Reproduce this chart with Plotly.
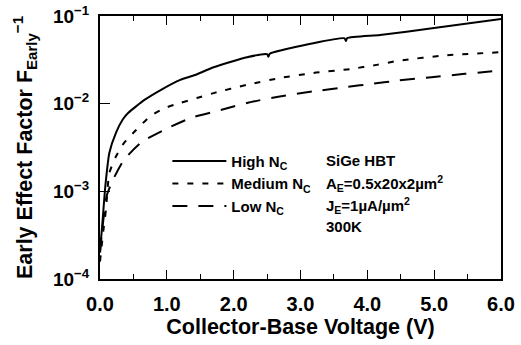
import plotly.graph_objects as go

# Collector-base voltage (V) and Early effect factor values
v_high = [0.0, 0.04, 0.08, 0.14, 0.24, 0.34, 0.42, 0.67, 0.92, 1.20, 1.42, 1.70,
          2.20, 2.50, 2.52, 2.54, 3.19, 3.66, 3.68, 3.70, 4.19, 4.97, 6.0]
f_high = [2.04e-4, 4.79e-4, 1.15e-3, 2.75e-3, 4.68e-3, 6.6e-3, 7.83e-3, 1.11e-2,
          1.45e-2, 1.87e-2, 2.12e-2, 2.6e-2, 3.39e-2, 3.67e-2, 3.43e-2, 3.72e-2,
          4.9e-2, 5.57e-2, 5.19e-2, 5.62e-2, 6.08e-2, 7.24e-2, 9.23e-2]

v_med = [0.0, 0.05, 0.09, 0.14, 0.24, 0.36, 0.54, 0.75, 0.97, 1.20, 1.45, 1.70,
         2.20, 2.69, 3.19, 3.74, 4.14, 4.47, 5.16, 5.96]
f_med = [1.58e-4, 3.55e-4, 6.3e-4, 1.62e-3, 2.51e-3, 3.57e-3, 5.0e-3, 7.18e-3,
         8.9e-3, 1.02e-2, 1.16e-2, 1.32e-2, 1.64e-2, 1.96e-2, 2.24e-2, 2.48e-2,
         2.77e-2, 3.09e-2, 3.55e-2, 3.85e-2]

v_low = [0.0, 0.025, 0.10, 0.20, 0.36, 0.62, 0.97, 1.37, 1.82, 2.20, 2.69, 3.19,
         3.69, 4.09, 4.47, 4.96, 5.46, 6.0]
f_low = [2.0e-4, 3.16e-4, 8.9e-4, 1.38e-3, 2.29e-3, 3.63e-3, 5.07e-3, 6.92e-3,
         8.51e-3, 1.02e-2, 1.21e-2, 1.38e-2, 1.55e-2, 1.69e-2, 1.84e-2, 2.0e-2,
         2.19e-2, 2.39e-2]

x_tickvals = [0, 1, 2, 3, 4, 5, 6]
x_ticktext = ["0.0", "1.0", "2.0", "3.0", "4.0", "5.0", "6.0"]
y_tickvals = [1e-4, 1e-3, 1e-2, 1e-1]
y_ticktext = ["10<sup>−4</sup>", "10<sup>−3</sup>", "10<sup>−2</sup>", "10<sup>−1</sup>"]

series_names = ["High N<sub>C</sub>", "Medium N<sub>C</sub>", "Low N<sub>C</sub>"]
info_lines = ["SiGe HBT", "A<sub>E</sub>=0.5x20x2µm<sup>2</sup>",
              "J<sub>E</sub>=1µA/µm<sup>2</sup>", "300K"]

FONT = "Liberation Sans, Arial, sans-serif"

fig = go.Figure()
fig.add_trace(go.Scatter(x=v_high, y=f_high, mode="lines", name=series_names[0],
                         line=dict(color="black", width=2, dash="solid",
                                   shape="spline", smoothing=0.5)))
fig.add_trace(go.Scatter(x=v_med, y=f_med, mode="lines", name=series_names[1],
                         line=dict(color="black", width=2, dash="6px,9px",
                                   shape="spline", smoothing=0.6)))
fig.add_trace(go.Scatter(x=v_low, y=f_low, mode="lines", name=series_names[2],
                         line=dict(color="black", width=2, dash="15px,11px",
                                   shape="spline", smoothing=0.6)))

info_y = [0.452, 0.365, 0.281, 0.198]
for txt, yy in zip(info_lines, info_y):
    fig.add_annotation(x=0.559, y=yy, xref="paper", yref="paper", text=txt,
                       showarrow=False, xanchor="left", yanchor="middle",
                       font=dict(family=FONT, size=15, color="black", weight="bold"))

fig.update_layout(
    width=521, height=345,
    margin=dict(l=100, r=20, t=16, b=66),
    paper_bgcolor="white", plot_bgcolor="white",
    font=dict(family=FONT, color="black"),
    showlegend=True,
    legend=dict(x=0.168, y=0.51, xanchor="left", yanchor="top",
                bgcolor="rgba(0,0,0,0)", borderwidth=0,
                font=dict(family=FONT, size=15, color="black", weight="bold"),
                itemwidth=54, tracegroupgap=0),
    xaxis=dict(range=[0, 6], tickvals=x_tickvals, ticktext=x_ticktext,
               ticks="inside", ticklen=9, tickwidth=1, tickcolor="black",
               minor=dict(dtick=0.5, ticks="inside", ticklen=5, tickcolor="black"),
               showline=True, linecolor="black", linewidth=2, mirror="allticks",
               showgrid=False, zeroline=False, automargin=False,
               ticklabelstandoff=6,
               tickfont=dict(family=FONT, size=20, weight="bold"),
               title=dict(text="Collector-Base Voltage (V)", standoff=4,
                          font=dict(family=FONT, size=21.5, weight="bold"))),
    yaxis=dict(type="log", range=[-4, -1], tickvals=y_tickvals, ticktext=y_ticktext,
               ticks="inside", ticklen=10, tickwidth=1, tickcolor="black",
               showline=True, linecolor="black", linewidth=2, mirror=True,
               showgrid=False, zeroline=False, automargin=False,
               ticklabelstandoff=5,
               tickfont=dict(family=FONT, size=19, weight="bold"),
               title=dict(text="Early Effect Factor F<sub>Early</sub><sup>−1</sup>",
                          standoff=14,
                          font=dict(family=FONT, size=21.5, weight="bold"))),
)

fig.write_html("out.html", config={"displayModeBar": False},
               post_script="document.body.style.margin='0';document.body.style.overflow='hidden';")
